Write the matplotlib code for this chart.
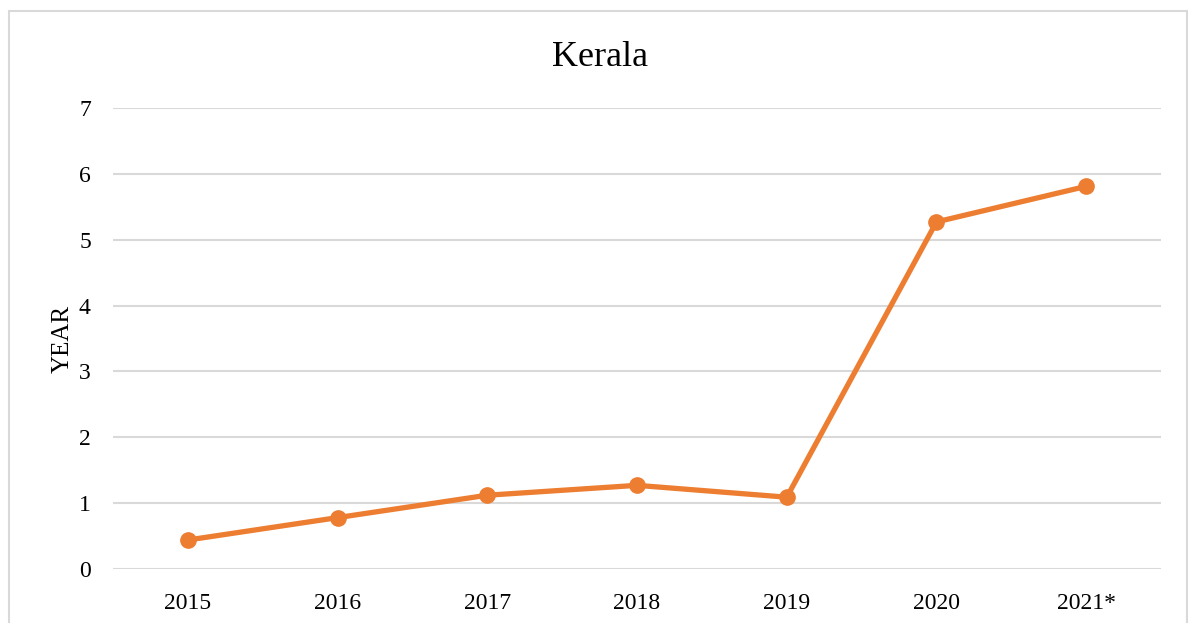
import matplotlib
matplotlib.use("Agg")
import matplotlib.pyplot as plt
from matplotlib.patches import Rectangle

# Kerala series
years = ['2015', '2016', '2017', '2018', '2019', '2020', '2021*']
values = [0.44, 0.78, 1.12, 1.27, 1.09, 5.27, 5.81]

plt.rcParams['font.family'] = ['Liberation Serif', 'DejaVu Serif']

fig = plt.figure(figsize=(11.95, 6.23), dpi=100)
ax = fig.add_axes([0.0946, 0.0867, 0.877, 0.740])

x = range(len(years))
ax.plot(x, values, color='#ED7D31', linewidth=3.8, marker='o', markersize=11,
        solid_capstyle='round', zorder=3)

ax.set_xlim(-0.5, len(years) - 0.5)
ax.set_ylim(0, 7)
ax.set_yticks(range(0, 8))
ax.set_xticks(list(x))
ax.set_xticklabels(years)
ax.tick_params(axis='both', length=0, labelsize=17, colors='#000000')
ax.tick_params(axis='y', pad=16)
ax.tick_params(axis='x', pad=17)

ax.grid(axis='y', color='#D9D9D9', linewidth=1.5)
ax.set_axisbelow(True)
for s in ax.spines.values():
    s.set_visible(False)

ax.set_ylabel('YEAR', fontsize=18, labelpad=4)
fig.text(0.502, 0.908, 'Kerala', ha='center', va='center', fontsize=26)

# outer chart border
fig.patches.append(Rectangle((9 / 1195, -0.05), 1178 / 1195, 1.05 - 11 / 623,
                             transform=fig.transFigure, fill=False,
                             edgecolor='#D9D9D9', linewidth=1.5))

fig.savefig('out.png', dpi=100)
